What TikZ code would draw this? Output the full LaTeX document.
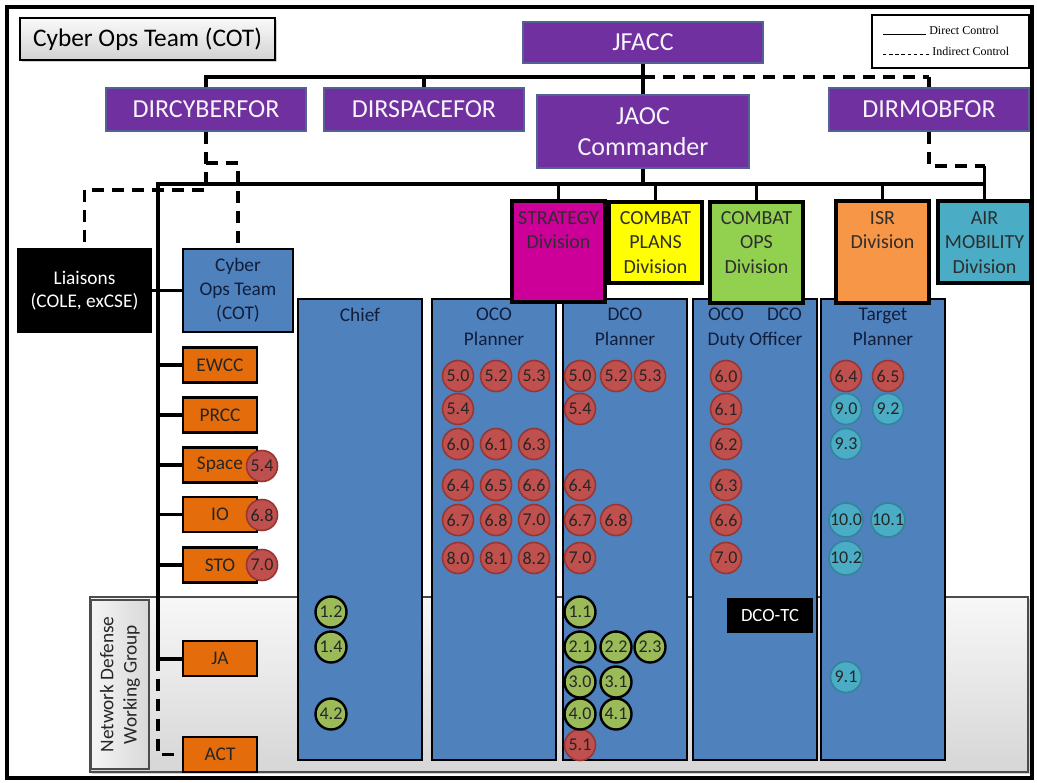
\documentclass[tikz,border=0pt]{standalone}
\usepackage{fontspec}
\setmainfont{Carlito}
\newfontfamily\legendfont{Liberation Serif}
\usetikzlibrary{calc,shadows}

\definecolor{jpurple}{RGB}{112,48,160}
\definecolor{jpurpleedge}{RGB}{84,96,150}
\definecolor{colblue}{RGB}{79,129,189}
\definecolor{coltxt}{RGB}{16,30,60}
\definecolor{corange}{RGB}{228,108,10}
\definecolor{bred}{RGB}{192,80,77}
\definecolor{bredge}{RGB}{150,55,52}
\definecolor{bgreen}{RGB}{155,187,89}
\definecolor{bteal}{RGB}{75,172,198}
\definecolor{btealedge}{RGB}{49,133,156}
\definecolor{dstrat}{RGB}{204,0,153}
\definecolor{dplans}{RGB}{255,255,0}
\definecolor{dops}{RGB}{146,208,80}
\definecolor{disr}{RGB}{247,150,70}
\definecolor{dair}{RGB}{75,172,198}

\begin{document}
\begin{tikzpicture}[x=0.75pt,y=-0.75pt,
  wh/.style 2 args={minimum width=#1*0.75pt, minimum height=#2*0.75pt},
  cmd/.style={rectangle, fill=jpurple, draw=jpurpleedge, line width=0.8pt,
    text=white!94!jpurple, font=\fontsize{19.5}{23}\selectfont, inner sep=0pt, align=center},
  divbox/.style={rectangle, draw=black, line width=2.4pt, inner sep=0pt},
  divtext/.style={anchor=north, align=center, font=\fontsize{15}{18.5}\selectfont,
    text=black!82, inner sep=0pt},
  colbox/.style={rectangle, fill=colblue, draw=black, line width=2.2pt, inner sep=0pt},
  coltext/.style={anchor=north, align=center, font=\fontsize{14.5}{18.75}\selectfont,
    text=coltxt, inner sep=0pt},
  cell/.style={rectangle, fill=corange, draw=black, line width=2.2pt, inner sep=0pt,
    wh={74}{35}, font=\fontsize{14.5}{17}\selectfont, text=black!85},
  badge/.style={circle, minimum size=31*0.75pt, inner sep=0pt,
    font=\fontsize{13.5}{14}\selectfont, text=black!85},
  rb/.style={badge, fill=bred, draw=bredge, line width=1.2pt},
  gb/.style={badge, fill=bgreen, draw=black, line width=1.8pt},
  tb/.style={badge, fill=bteal, draw=btealedge, line width=1.2pt},
  direct/.style={draw=black, line width=2.6pt},
  indirect/.style={draw=black, line width=2.4pt, dash pattern=on 9pt off 6pt}]

\useasboundingbox (0,0) rectangle (1037,782);
\fill[white] (0,0) rectangle (1037,782);

% Network Defense Working Group band
\node[wh={938}{175}, draw=black!70, line width=1pt, top color=gray!6, bottom color=gray!32,
  inner sep=0pt, drop shadow={shadow xshift=1.2pt, shadow yshift=-1.2pt, opacity=0.35}]
  (ndwg) at (559,684.5) {};
\node[wh={58}{169}, draw=black!70, line width=1pt, left color=gray!8, right color=gray!30,
  inner sep=0pt] (ndwglbl) at (120,684.5) {};
\node[rotate=90, align=center, font=\fontsize{14.5}{17.5}\selectfont, text=black!85,
  inner sep=0pt] (ndwgtext) at (120,684.5) {Network Defense\\Working Group};

% outer frame
\draw[line width=3.4pt] (7,7) rectangle (1032,778);

% title and legend
\node[draw=black, line width=1pt, top color=gray!4, bottom color=gray!35, wh={255}{42},
  inner sep=0pt, font=\fontsize{19}{22}\selectfont,
  drop shadow={shadow xshift=1.5pt, shadow yshift=-1.5pt, opacity=0.35}]
  (title) at (147.5,39) {Cyber Ops Team (COT)};
\node[draw=black, line width=2.2pt, fill=white, wh={157}{53}, inner sep=0pt] (legend) at (950.5,41.5) {};
\coordinate (lgA1) at (883,34);
\coordinate (lgA2) at (926,34);
\coordinate (lgB1) at (883,54);
\coordinate (lgB2) at (929,54);
\draw[line width=0.6pt] (lgA1) -- (lgA2);
\draw[line width=0.6pt, dash pattern=on 2.6pt off 2pt] (lgB1) -- (lgB2);
\node[anchor=base west, inner sep=0pt, font=\legendfont\fontsize{9}{10}\selectfont] (lgtA) at (929,34) {Direct Control};
\node[anchor=base west, inner sep=0pt, font=\legendfont\fontsize{9}{10}\selectfont] (lgtB) at (932,55) {Indirect Control};

% command boxes
\node[cmd, wh={240}{41}] (jfacc) at (643,42.5) {JFACC};
\node[cmd, wh={212}{73}] (jaoc) at (643,131.5) {JAOC\\Commander};
\node[cmd, wh={200}{43}] (dircyber) at (206,109.5) {DIRCYBERFOR};
\node[cmd, wh={200}{43}] (dirspace) at (424,109.5) {DIRSPACEFOR};
\node[cmd, wh={200}{43}] (dirmob) at (929,109.5) {DIRMOBFOR};

% connector junctions
\coordinate (jbus) at (643,77);
\coordinate (aocbus) at (643,184);
\coordinate (spine) at (158,184);
\coordinate (cybturn) at (206,190);
\coordinate (cybbranch) at (206,163);
\coordinate (mobturn) at (984.5,166);

% left-hand boxes
\node[rectangle, fill=black, wh={135}{85}, inner sep=0pt, align=center, text=white,
  font=\fontsize{14.5}{17.5}\selectfont] (liaisons) at (84.5,290.5) {Liaisons\\(COLE, exCSE)};
\node[colbox, wh={110}{83}, align=center, text=coltxt, font=\fontsize{14.5}{18}\selectfont]
  (cot) at (238,290.5) {Cyber\\Ops Team\\(COT)};
\node[cell] (ewcc) at (220,365) {EWCC};
\node[cell] (prcc) at (220,415) {PRCC};
\node[cell] (space) at (220,465) {Space};
\node[cell] (io) at (220,514.5) {IO};
\node[cell] (sto) at (220,565) {STO};
\node[cell] (ja) at (220,658.5) {JA};
\node[cell] (act) at (220,754.5) {ACT};

% direct control lines
\draw[direct] (jfacc.south) -- (jaoc.north);
\draw[direct] (dircyber.north) |- (jbus);
\draw[direct] (dirspace.north) -- (dirspace.north |- jbus);
\draw[indirect] (jbus) -- (jbus -| dirmob.north);
\draw[direct] (jbus -| dirmob.north) -- (dirmob.north);
\draw[direct] (jaoc.south) -- (aocbus);
\draw[direct, line width=3pt] (aocbus) -- (spine) |- (ja.west);
\draw[direct] (liaisons.east) -- (cot.west);
\foreach \b in {ewcc,prcc,space,io,sto}
  \draw[direct] (spine |- \b.west) -- (\b.west);
\draw[indirect] (spine |- ja.west) |- (act.west);

% indirect control lines
\draw[indirect] (dircyber.south) -- (cybturn) -| (liaisons.north);
\draw[indirect] (cybbranch) -| (cot.north);
\draw[indirect] (dirmob.south) |- (mobturn);

% position columns
\node[colbox, wh={124}{461}] (chief) at (360,529.5) {};
\node[colbox, wh={124}{461}] (oco) at (494,529.5) {};
\node[colbox, wh={124}{461}] (dco) at (625,529.5) {};
\node[colbox, wh={124}{461}] (duty) at (755,529.5) {};
\node[colbox, wh={124}{461}] (target) at (883,529.5) {};
\node[coltext] (chief-t) at (360,308) {Chief};
\node[coltext] (oco-t) at (494,308) {OCO\\Planner};
\node[coltext] (dco-t) at (625,308) {DCO\\Planner};
\node[coltext] (duty-t) at (755,308) {OCO\hspace{1.2em}DCO\\Duty Officer};
\node[coltext] (target-t) at (883,308) {Target\\Planner};

% divisions
\node[divbox, fill=dstrat, wh={93}{101}] (strat) at (558.5,251.5) {};
\node[divbox, fill=dplans, wh={93}{81}] (plans) at (655.5,242.5) {};
\node[divbox, fill=dops, wh={93}{101}] (ops) at (756.5,252.5) {};
\node[divbox, fill=disr, wh={93}{102}] (isr) at (882.5,252) {};
\node[divbox, fill=dair, wh={93}{82}] (air) at (984.5,242) {};
\node[divtext] (strat-t) at (558.5,211) {STRATEGY\\Division};
\node[divtext] (plans-t) at (655.5,211) {COMBAT\\PLANS\\Division};
\node[divtext] (ops-t) at (756.5,211) {COMBAT\\OPS\\Division};
\node[divtext] (isr-t) at (882.5,211) {ISR\\Division};
\node[divtext] (air-t) at (984.5,211) {AIR\\MOBILITY\\Division};

\draw[direct] (aocbus) -- (aocbus -| air.north);
\foreach \d in {strat,plans,ops,isr}
  \draw[direct] (\d.north |- aocbus) -- (\d.north);
\draw[direct] (mobturn) -- (air.north);

% DCO-TC
\node[rectangle, fill=black, text=white, wh={86}{35}, inner sep=0pt,
  font=\fontsize{14}{16}\selectfont] (dcotc) at (770,615.5) {DCO-TC};

% red task badges
\foreach \t/\x/\y in {
  5.4/262/466, 6.8/262/515, 7.0/262/565,
  5.0/458/376, 5.2/496/376, 5.3/534/376, 5.4/458/409,
  6.0/458/444, 6.1/496/444, 6.3/534/444,
  6.4/458/485, 6.5/496/485, 6.6/534/485,
  6.7/458/520, 6.8/496/520, 7.0/534/520,
  8.0/458/558, 8.1/496/558, 8.2/534/558,
  5.0/580/376, 5.2/616/376, 5.3/650/376, 5.4/580/409,
  6.4/580/485, 6.7/580/520, 6.8/616/520, 7.0/580/558,
  6.0/726/376, 6.1/726/409, 6.2/726/444, 6.3/726/485, 6.6/726/520, 7.0/726/558,
  6.4/846/376, 6.5/888/376, 5.1/580/745}
  \node[rb] (r-\x-\y) at (\x,\y) {\t};

% teal task badges
\foreach \t/\x/\y in {
  9.0/846/409, 9.2/888/409, 9.3/846/444,
  10.0/846/520, 10.1/888/520, 10.2/846/558, 9.1/846/677}
  \node[tb] (t-\x-\y) at (\x,\y) {\t};

% green task badges
\foreach \t/\x/\y in {
  1.2/331/612, 1.4/331/647, 4.2/331/714,
  1.1/580/612, 2.1/580/647, 2.2/616/647, 2.3/650/647,
  3.0/580/682, 3.1/616/682, 4.0/580/714, 4.1/616/714}
  \node[gb] (g-\x-\y) at (\x,\y) {\t};

\end{tikzpicture}
\end{document}
